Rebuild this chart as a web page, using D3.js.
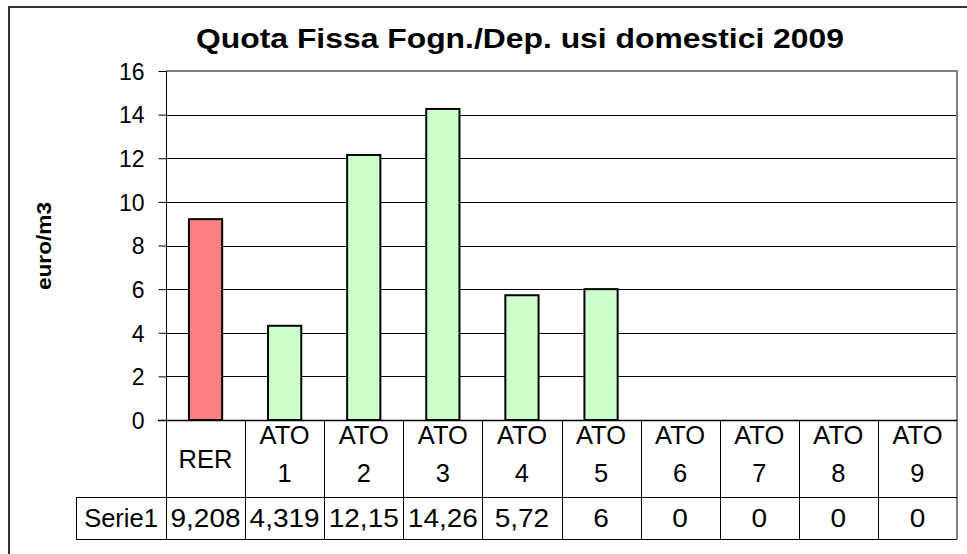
<!DOCTYPE html>
<html>
<head>
<meta charset="utf-8">
<script src="https://cdn.jsdelivr.net/npm/d3@7"></script>
<style>
  html, body { margin: 0; padding: 0; background: #fff; }
  svg { display: block; font-family: Arial, "Liberation Sans", sans-serif; }
</style>
</head>
<body>
<svg id="chart" width="967" height="554"></svg>
<script>
// chart data
const categories = ['RER', 'ATO 1', 'ATO 2', 'ATO 3', 'ATO 4', 'ATO 5', 'ATO 6', 'ATO 7', 'ATO 8', 'ATO 9'];
const values = [9.208, 4.319, 12.15, 14.26, 5.72, 6, 0, 0, 0, 0];
const barColors = ['#ff8080', '#ccffcc', '#ccffcc', '#ccffcc', '#ccffcc', '#ccffcc', '#ccffcc', '#ccffcc', '#ccffcc', '#ccffcc'];
const yTicks = [0, 2, 4, 6, 8, 10, 12, 14, 16];
const seriesName = 'Serie1';
const title = 'Quota Fissa Fogn./Dep. usi domestici 2009';
const yLabel = 'euro/m3';

const svg = d3.select('#chart');

const plot = { left: 166, right: 957, top: 71, bottom: 420 };
const table = { left: 76, rowTop: 420, rowMid: 497, bottom: 539 };

const x = d3.scaleBand()
  .domain(categories)
  .range([plot.left, plot.right])
  .paddingInner(0.58)
  .paddingOuter(0.29);

const cell = d3.scaleBand()
  .domain(categories)
  .range([plot.left, plot.right]);

const y = d3.scaleLinear()
  .domain([0, 16])
  .range([plot.bottom, plot.top]);

// stretch text horizontally (the original rendering is a bit wide)
function stretch(sel, k) {
  sel.each(function() {
    const w = this.getComputedTextLength();
    d3.select(this)
      .attr('textLength', w * k)
      .attr('lengthAdjust', 'spacingAndGlyphs');
  });
}

// outer frame
svg.append('rect')
  .attr('x', 9)
  .attr('y', 7)
  .attr('width', 1000)
  .attr('height', 600)
  .attr('fill', 'none')
  .attr('stroke', '#333')
  .attr('stroke-width', 2);

// title
svg.append('text')
  .attr('x', 520)
  .attr('y', 48)
  .attr('text-anchor', 'middle')
  .style('font-size', '27px')
  .style('font-weight', 'bold')
  .text(title)
  .call(stretch, 1.18);

// y axis label
svg.append('text')
  .attr('transform', 'translate(51,246) rotate(-90)')
  .attr('text-anchor', 'middle')
  .style('font-size', '21px')
  .style('font-weight', 'bold')
  .text(yLabel)
  .call(stretch, 1.08);

// grid lines
svg.append('g')
  .selectAll('line')
  .data(yTicks.filter(d => d > 0 && d < 16))
  .enter()
  .append('line')
  .attr('x1', plot.left)
  .attr('x2', plot.right)
  .attr('y1', d => Math.round(y(d)) + 0.5)
  .attr('y2', d => Math.round(y(d)) + 0.5)
  .attr('stroke', '#000')
  .attr('stroke-width', 1);

// plot border top + right (gray)
svg.append('path')
  .attr('d', `M${plot.left},${plot.top}H${plot.right}V${table.bottom}`)
  .attr('fill', 'none')
  .attr('stroke', '#808080')
  .attr('stroke-width', 2);

// y axis
const yAxis = svg.append('g')
  .attr('transform', `translate(${plot.left + 0.5},0)`)
  .call(d3.axisLeft(y).tickValues(yTicks).tickSize(8).tickPadding(14));

yAxis.select('.domain').remove();
yAxis.selectAll('.tick line').attr('stroke', '#000');
yAxis.selectAll('.tick text')
  .attr('fill', '#000')
  .style('font-size', '23px')
  .style('font-family', 'Arial, "Liberation Sans", sans-serif')
  .attr('dy', '0.36em');

// bars
svg.append('g')
  .selectAll('rect')
  .data(values)
  .enter()
  .append('rect')
  .attr('x', (d, i) => x(categories[i]))
  .attr('y', d => y(d))
  .attr('width', x.bandwidth())
  .attr('height', d => y(0) - y(d))
  .attr('fill', (d, i) => barColors[i])
  .attr('stroke', '#000')
  .attr('stroke-width', 2)
  .style('display', d => d > 0 ? null : 'none');

// data table lines
const grid = svg.append('g')
  .attr('stroke', '#000')
  .attr('stroke-width', 1);

grid.append('line')
  .attr('x1', plot.left + 0.5).attr('x2', plot.left + 0.5)
  .attr('y1', plot.top).attr('y2', table.bottom);

grid.selectAll('.sep')
  .data(categories.slice(1))
  .enter()
  .append('line')
  .attr('class', 'sep')
  .attr('x1', d => Math.round(cell(d)) + 0.5)
  .attr('x2', d => Math.round(cell(d)) + 0.5)
  .attr('y1', table.rowTop)
  .attr('y2', table.bottom);

grid.append('line')
  .attr('x1', table.left).attr('x2', plot.right)
  .attr('y1', table.rowMid + 0.5).attr('y2', table.rowMid + 0.5);

grid.append('line')
  .attr('x1', table.left).attr('x2', plot.right)
  .attr('y1', table.bottom + 0.5).attr('y2', table.bottom + 0.5);

grid.append('line')
  .attr('x1', table.left + 0.5).attr('x2', table.left + 0.5)
  .attr('y1', table.rowMid).attr('y2', table.bottom);

// x axis line at zero
svg.append('line')
  .attr('x1', plot.left - 8).attr('x2', plot.right)
  .attr('y1', y(0) + 0.5).attr('y2', y(0) + 0.5)
  .attr('stroke', '#000')
  .attr('stroke-width', 1.5);

// category labels
const rowMidY = (table.rowTop + table.rowMid) / 2;
const catLabels = svg.append('g')
  .selectAll('text')
  .data(categories)
  .enter()
  .append('text')
  .attr('x', d => cell(d) + cell.bandwidth() / 2)
  .attr('text-anchor', 'middle')
  .style('font-size', '25px');

catLabels.each(function(d) {
  const lines = d.split(' ');
  const t = d3.select(this);
  if (lines.length === 1) {
    t.append('tspan').attr('y', rowMidY + 9).text(lines[0]);
  } else {
    t.append('tspan').attr('x', cell(d) + cell.bandwidth() / 2).attr('y', rowMidY - 15).text(lines[0]);
    t.append('tspan').attr('x', cell(d) + cell.bandwidth() / 2).attr('y', rowMidY + 23).text(lines[1]);
  }
});
catLabels.selectAll('tspan').call(stretch, 1.02);

// series row
const valY = (table.rowMid + table.bottom) / 2 + 9;
svg.append('text')
  .attr('x', (table.left + plot.left) / 2)
  .attr('y', valY)
  .attr('text-anchor', 'middle')
  .style('font-size', '25px')
  .text(seriesName)
  .call(stretch, 1.02);

const fmt = d3.formatLocale({ decimal: ',', thousands: '.', grouping: [3], currency: ['€', ''] }).format('~r');

svg.append('g')
  .selectAll('text')
  .data(values)
  .enter()
  .append('text')
  .attr('x', (d, i) => cell(categories[i]) + cell.bandwidth() / 2)
  .attr('y', valY)
  .attr('text-anchor', 'middle')
  .style('font-size', '25px')
  .text(d => fmt(d))
  .call(stretch, 1.12);
</script>
</body>
</html>
